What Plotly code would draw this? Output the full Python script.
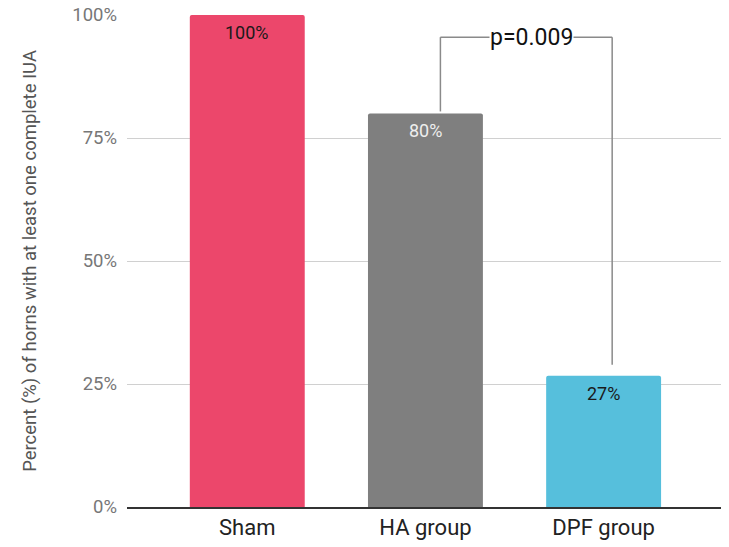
import plotly.graph_objects as go

categories = ["Sham", "HA group", "DPF group"]
values = [100, 80, 26.7]
labels = ["100%", "80%", "27%"]
colors = ["#EC476B", "#7F7F7F", "#56BFDC"]
label_colors = ["#1a1a1a", "#EEEEEE", "#1a1a1a"]
y_ticks = [0, 25, 50, 75, 100]
y_tick_text = ["0%", "25%", "50%", "75%", "100%"]
p_text = "p=0.009"

fig = go.Figure()
fig.add_trace(go.Bar(
    x=categories, y=values,
    marker=dict(color=colors, line=dict(width=0), cornerradius=2),
    width=0.645,
    hoverinfo="skip",
))

# value labels inside the top of each bar
for cat, val, lab, lc in zip(categories, values, labels, label_colors):
    fig.add_annotation(x=cat, y=val, xref="x", yref="y", text=lab, showarrow=False,
                       yanchor="top", yshift=-5,
                       font=dict(family="Roboto", size=18, color=lc))

# significance bracket between HA group (1) and DPF group (2)
bx0, bx1 = 1.084, 2.048
by_top = 95.5
line_style = dict(color="#8a8a8a", width=1.5)
fig.add_shape(type="line", xref="x", yref="y", x0=bx0, x1=bx0, y0=values[1] + 0.4, y1=by_top, line=line_style)
fig.add_shape(type="line", xref="x", yref="y", x0=bx1, x1=bx1, y0=values[2] + 2.2, y1=by_top, line=line_style)
fig.add_shape(type="line", xref="x", yref="y", x0=bx0, x1=bx1, y0=by_top, y1=by_top, line=line_style)
fig.add_annotation(x=1.594, y=by_top, xref="x", yref="y", text=p_text, showarrow=False,
                   font=dict(family="Roboto", size=23, color="#111"), bgcolor="white",
                   borderpad=0)

fig.add_annotation(x=-0.163, y=0.5, xref="paper", yref="paper", textangle=-90,
                   xanchor="center", yanchor="middle",
                   text="Percent (%) of horns with at least one complete IUA", showarrow=False,
                   font=dict(family="Roboto", size=18.5, color="#555"))

fig.update_layout(
    width=729, height=547,
    margin=dict(l=119, r=14, t=7, b=48, autoexpand=False),
    paper_bgcolor="white", plot_bgcolor="white",
    showlegend=False,
    xaxis=dict(range=[-0.675, 2.67], showgrid=False, showline=True, linecolor="#333", linewidth=1.5,
               ticks="", tickfont=dict(family="Roboto", size=22, color="#222"), fixedrange=True,
               automargin=False),
    yaxis=dict(range=[0, 100], tickvals=y_ticks, ticktext=y_tick_text, showgrid=True,
               gridcolor="#d0d0d0", gridwidth=1, zeroline=False, showline=False,
               tickfont=dict(family="Roboto", size=18.5, color="#777"), ticklabelstandoff=9,
               ticklabeloverflow="allow", fixedrange=True, automargin=False),
)

fig.write_html(
    "out.html",
    post_script="document.querySelectorAll('.main-svg').forEach(function(s){s.style.overflow='visible';});",
)
